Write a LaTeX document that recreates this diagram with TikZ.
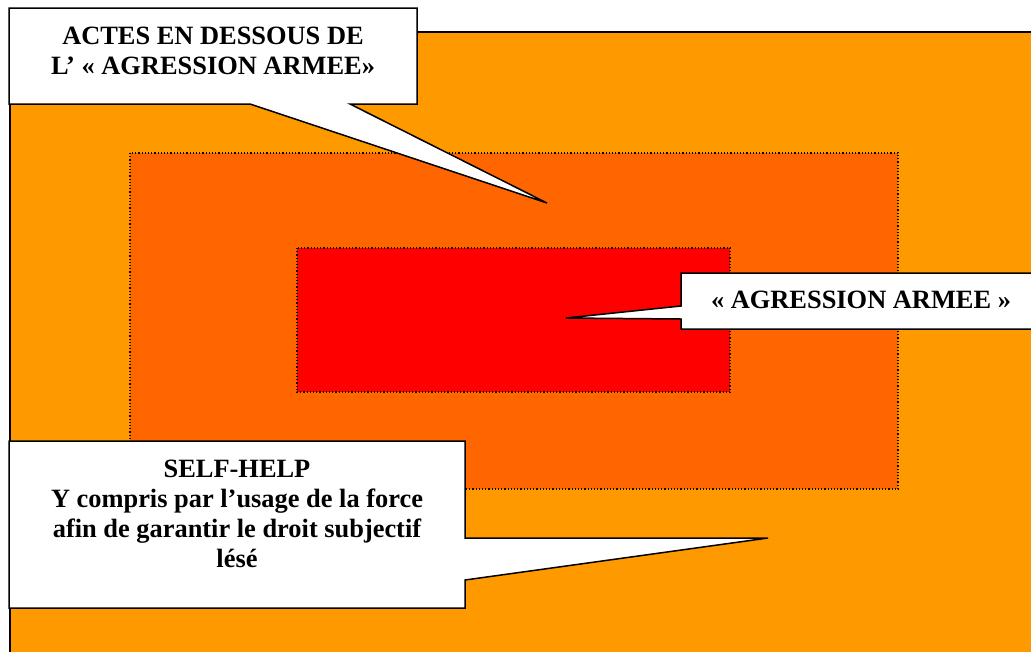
\documentclass[tikz,border=0pt]{standalone}
\usepackage{fontspec}
\setmainfont{Liberation Serif}
\definecolor{bgorange}{HTML}{FF9900}
\definecolor{midorange}{HTML}{FF6600}
\definecolor{innerred}{HTML}{FF0000}
\begin{document}
\begin{tikzpicture}[x=1pt,y=-1pt,
  zone/.style={draw=black,line width=1.2pt,dotted},
  callout/.style={fill=white,draw=black,line width=1.5pt,line join=miter},
  label/.style={font=\fontsize{26.4}{30}\selectfont\bfseries,align=center,inner sep=0pt,anchor=base}]
\useasboundingbox (0,0) rectangle (1031,651);
% background
\fill[bgorange] (10,32) rectangle (1040,660);
\draw[line width=1.5pt,black] (10,660) -- (10,32) -- (1040,32);
% zones
\fill[midorange] (130,153) rectangle (898,489);
\draw[zone] (130,153) rectangle (898,489);
\fill[innerred] (297,248) rectangle (730,392);
\draw[zone] (297,248) rectangle (730,392);
% top callout
\draw[callout] (9,8) -- (417,8) -- (417,104) -- (350,104) -- (547,203) -- (250,104) -- (9,104) -- cycle;
\node[label] (top) at (213,74) {ACTES EN DESSOUS DE\\L’ « AGRESSION ARMEE»};
% right callout
\draw[callout] (681,273) -- (1045,273) -- (1045,329) -- (681,329) -- (681,319) -- (566,318) -- (681,306) -- cycle;
\node[label] (right) at (861,308) {« AGRESSION ARMEE »};
% bottom callout
\draw[callout] (9,441) -- (465,441) -- (465,538) -- (768,538) -- (465,580) -- (465,608) -- (9,608) -- cycle;
\node[label] (bottom) at (237,567) {SELF-HELP\\Y compris par l’usage de la force\\afin de garantir le droit subjectif\\lésé};
\end{tikzpicture}
\end{document}
